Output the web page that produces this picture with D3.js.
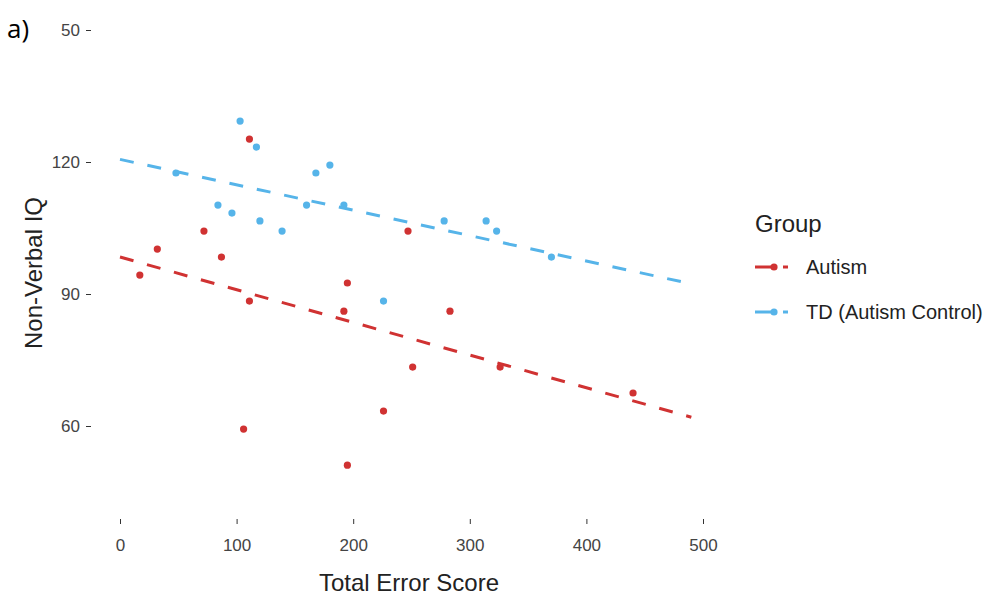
<!DOCTYPE html>
<html>
<head>
<meta charset="utf-8">
<script src="https://cdn.jsdelivr.net/npm/d3@7"></script>
<style>
  body { margin: 0; background: #fff; }
  svg { font-family: "Liberation Sans", Arial, sans-serif; }
</style>
</head>
<body>
<div id="chart"></div>
<script>
// Data
const autismScore = [17, 32, 72, 87, 111, 111, 106, 195, 195, 192, 251, 283, 247, 326, 226, 440];
const autismIQ    = [94.3, 100.2, 104.3, 98.4, 125.2, 88.4, 59.3, 51.1, 92.5, 86.1, 73.4, 86.1, 104.3, 73.4, 63.4, 67.5];
const tdScore = [103, 117, 48, 168, 180, 84, 96, 120, 139, 160, 192, 278, 314, 323, 226, 370];
const tdIQ    = [129.3, 123.4, 117.5, 117.5, 119.3, 110.2, 108.4, 106.6, 104.3, 110.2, 110.2, 106.6, 106.6, 104.3, 88.4, 98.4];

// fitted lines (ends)
const fitX = [0, 490];
const autismFit = [98.4, 62.0];
const tdFit = [120.6, 92.3];

const groups = ["Autism", "TD (Autism Control)"];
const colors = ["#d03232", "#56b4e9"];

const xTicks = [0, 100, 200, 300, 400, 500];
const yTicks = [60, 90, 120, 150];
const yTickLabels = ["60", "90", "120", "50"];

const width = 993;
const height = 598;

const x = d3.scaleLinear([0, 500], [120, 703]);
const y = d3.scaleLinear([60, 150], [426, 30]);

const svg = d3.create("svg").attr("width", width).attr("height", height);

// panel label
svg.append("text")
  .attr("x", 7).attr("y", 38)
  .attr("font-family", "Open Sans, sans-serif")
  .attr("font-size", 26)
  .attr("fill", "#000")
  .text("a)");

// x axis (ticks only, no line)
svg.append("g")
  .attr("transform", "translate(0,519)")
  .call(d3.axisBottom(x).tickValues(xTicks).tickSize(5).tickPadding(15))
  .call((g) => g.select(".domain").remove())
  .call((g) => g.selectAll(".tick line").attr("stroke", "#333"))
  .call((g) => g.selectAll(".tick text").attr("font-size", 17).attr("fill", "#444"));

// y axis
svg.append("g")
  .attr("transform", "translate(91,0)")
  .call(d3.axisLeft(y).tickValues(yTicks).tickSize(5).tickPadding(6)
    .tickFormat((d, i) => yTickLabels[i]))
  .call((g) => g.select(".domain").remove())
  .call((g) => g.selectAll(".tick line").attr("stroke", "#333"))
  .call((g) => g.selectAll(".tick text").attr("font-size", 17).attr("fill", "#444"));

// axis titles
svg.append("text")
  .attr("x", 409).attr("y", 591)
  .attr("text-anchor", "middle")
  .attr("font-size", 24)
  .attr("fill", "#222")
  .text("Total Error Score");

svg.append("text")
  .attr("transform", "translate(42,273) rotate(-90)")
  .attr("text-anchor", "middle")
  .attr("font-size", 24)
  .attr("fill", "#222")
  .text("Non-Verbal IQ");

// regression lines
const line = d3.line().x((d) => x(d[0])).y((d) => y(d[1]));
[autismFit, tdFit].forEach((fit, i) => {
  svg.append("path")
    .attr("d", line(fitX.map((v, j) => [v, fit[j]])))
    .attr("fill", "none")
    .attr("stroke", colors[i])
    .attr("stroke-width", 3)
    .attr("stroke-dasharray", "14,14");
});

// points
const series = [
  autismScore.map((v, i) => [v, autismIQ[i]]),
  tdScore.map((v, i) => [v, tdIQ[i]]),
];
series.forEach((pts, i) => {
  svg.append("g")
    .selectAll("circle")
    .data(pts)
    .join("circle")
    .attr("cx", (d) => x(d[0]))
    .attr("cy", (d) => y(d[1]))
    .attr("r", 3.6)
    .attr("fill", colors[i]);
});

// legend
const legend = svg.append("g").attr("transform", "translate(755,0)");
legend.append("text")
  .attr("x", 0).attr("y", 232)
  .attr("font-size", 24)
  .attr("fill", "#222")
  .text("Group");

groups.forEach((name, i) => {
  const ly = 267 + i * 45;
  legend.append("line")
    .attr("x1", 0).attr("x2", 33)
    .attr("y1", ly).attr("y2", ly)
    .attr("stroke", colors[i])
    .attr("stroke-width", 3)
    .attr("stroke-dasharray", "21,7,5");
  legend.append("circle")
    .attr("cx", 19).attr("cy", ly)
    .attr("r", 3.6)
    .attr("fill", colors[i]);
  legend.append("text")
    .attr("x", 51).attr("y", ly + 7)
    .attr("font-size", 20)
    .attr("fill", "#222")
    .text(name);
});

d3.select("#chart").node().appendChild(svg.node());
</script>
</body>
</html>
